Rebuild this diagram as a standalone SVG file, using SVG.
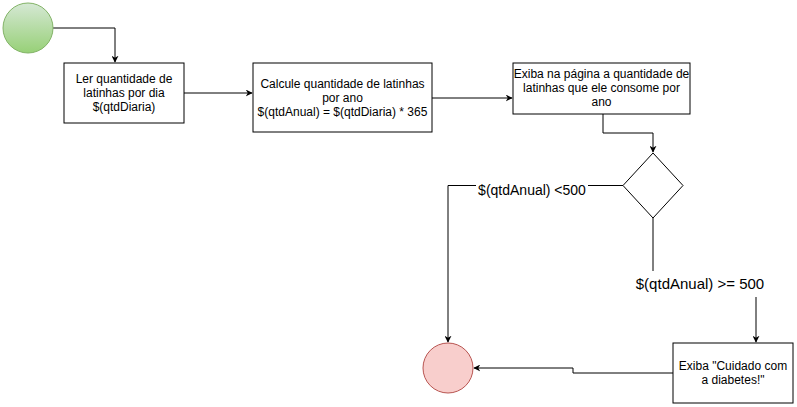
<svg xmlns="http://www.w3.org/2000/svg" width="797" height="407" viewBox="0 0 797 407">
<defs>
<linearGradient id="g" x1="0" y1="0" x2="0" y2="1">
<stop offset="0" stop-color="#d5e8d4"/>
<stop offset="1" stop-color="#97d077"/>
</linearGradient>
<marker id="arr" viewBox="0 0 10 10" refX="9" refY="5" markerWidth="7" markerHeight="7" orient="auto" markerUnits="userSpaceOnUse">
<path d="M0,0 L10,5 L0,10 L3,5 Z" fill="#000"/>
</marker>
<style>
.box{fill:#fff;stroke:#000;stroke-width:1}
.t{font-family:"Liberation Sans",Arial,sans-serif;font-size:12px;fill:#000;text-anchor:middle;dominant-baseline:central}
.lbl{font-family:"Liberation Sans",Arial,sans-serif;fill:#000;text-anchor:middle;dominant-baseline:central}
.c{fill:none;stroke:#000;stroke-width:1}
</style>
</defs>
<rect width="797" height="407" fill="#fff"/>
<g id="connectors">
<path class="c" d="M53,28 H115 V62" marker-end="url(#arr)"/>
<path class="c" d="M184,93 H252" marker-end="url(#arr)"/>
<path class="c" d="M432,98 H512" marker-end="url(#arr)"/>
<path class="c" d="M603,114 V133 H653 V152" marker-end="url(#arr)"/>
<path class="c" d="M623,185.5 H448 V342" marker-end="url(#arr)"/>
<path class="c" d="M653,218 V284 H756 V342" marker-end="url(#arr)"/>
<path class="c" d="M673,373 H573 V368 H474" marker-end="url(#arr)"/>
<rect x="476" y="182" width="112" height="16" fill="#fff"/>
<text class="lbl" x="532" y="190" font-size="14">$(qtdAnual) &lt;500</text>
<rect x="636" y="271" width="128" height="26" fill="#fff"/>
<text class="lbl" x="700" y="283" font-size="15">$(qtdAnual) &gt;= 500</text>
</g>
<g id="start">
<circle cx="28" cy="28" r="25" fill="url(#g)" stroke="#82b366"/>
</g>
<g id="ler">
<rect class="box" x="64" y="63" width="120" height="60"/>
<text class="t" x="124" y="79">Ler quantidade de</text>
<text class="t" x="124" y="93">latinhas por dia</text>
<text class="t" x="124" y="107">$(qtdDiaria)</text>
</g>
<g id="calcule">
<rect class="box" x="253" y="63" width="179" height="69"/>
<text class="t" x="342.5" y="84">Calcule quantidade de latinhas</text>
<text class="t" x="342.5" y="98">por ano</text>
<text class="t" x="342.5" y="112">$(qtdAnual) = $(qtdDiaria) * 365</text>
</g>
<g id="exiba">
<rect class="box" x="513" y="63" width="177" height="51"/>
<text class="t" x="601.5" y="74">Exiba na página a quantidade de</text>
<text class="t" x="601.5" y="88">latinhas que ele consome por</text>
<text class="t" x="601.5" y="102">ano</text>
</g>
<g id="decisao">
<path d="M653,153 L683,185.5 L653,218 L623,185.5 Z" fill="#fff" stroke="#000"/>
</g>
<g id="cuidado">
<rect class="box" x="673" y="343" width="120" height="60"/>
<text class="t" x="733" y="366">Exiba "Cuidado com</text>
<text class="t" x="733" y="380">a diabetes!"</text>
</g>
<g id="end">
<circle cx="448" cy="368" r="25" fill="#f8cecc" stroke="#b85450"/>
</g>
</svg>
